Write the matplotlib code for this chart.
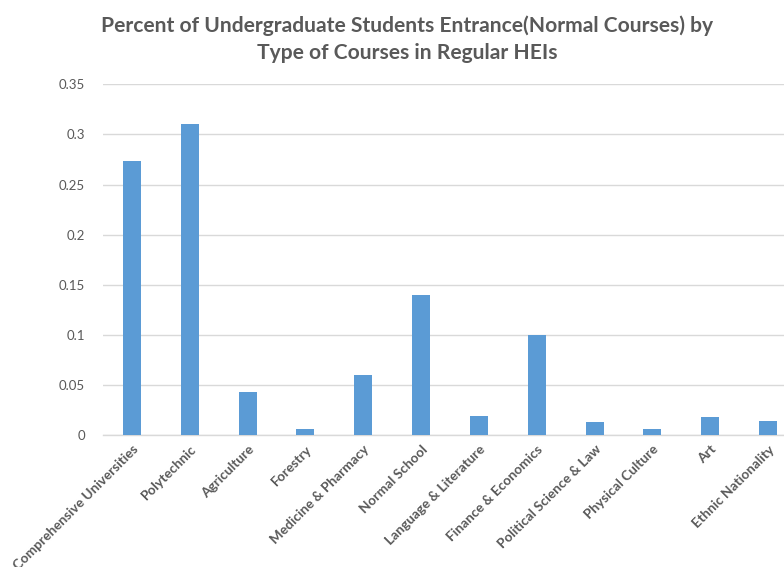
import matplotlib
matplotlib.use("Agg")
import matplotlib.pyplot as plt
import numpy as np

categories = ["Comprehensive Universities", "Polytechnic", "Agriculture", "Forestry",
              "Medicine & Pharmacy", "Normal School", "Language & Literature",
              "Finance & Economics", "Political Science & Law", "Physical Culture",
              "Art", "Ethnic Nationality"]
values = [0.273, 0.310, 0.0426, 0.006, 0.060, 0.1394, 0.0187, 0.0998, 0.0127, 0.006, 0.0177, 0.0137]
yticks = [0, 0.05, 0.1, 0.15, 0.2, 0.25, 0.3, 0.35]
ytick_labels = ["0", "0.05", "0.1", "0.15", "0.2", "0.25", "0.3", "0.35"]
title = "Percent of Undergraduate Students Entrance(Normal Courses) by\nType of Courses in Regular HEIs"

plt.rcParams['font.family'] = ['Lato', 'DejaVu Sans']
fig = plt.figure(figsize=(7.84, 5.67), dpi=100)
ax = fig.add_axes([103/784, 132/567, 694/784, 350.7/567])

x = np.arange(len(categories))
ax.bar(x, values, width=0.31, color="#5b9bd5", zorder=3)
ax.set_xlim(-0.5, len(categories) - 0.5)
ax.set_ylim(0, 0.35)
ax.set_yticks(yticks)
ax.set_yticklabels(ytick_labels, fontsize=9.5, color="#595959")
ax.set_xticks(x)
ax.set_xticklabels(categories, rotation=45, ha="right", va="top", rotation_mode="anchor",
                   fontsize=9.8, fontweight="bold", color="#595959")
ax.tick_params(axis="both", length=0)
ax.tick_params(axis="y", pad=13)
ax.tick_params(axis="x", pad=6)
ax.grid(axis="y", color="#d9d9d9", linewidth=1, zorder=0)
for s in ["top", "right", "left"]:
    ax.spines[s].set_visible(False)
ax.spines["bottom"].set_color("#d9d9d9")
ax.spines["bottom"].set_linewidth(1)

fig.text(407/784, 1 - 39/567, title, ha="center", va="center", fontsize=15.1,
         fontweight="bold", color="#595959", linespacing=1.45)

fig.savefig("out.png", dpi=100)
